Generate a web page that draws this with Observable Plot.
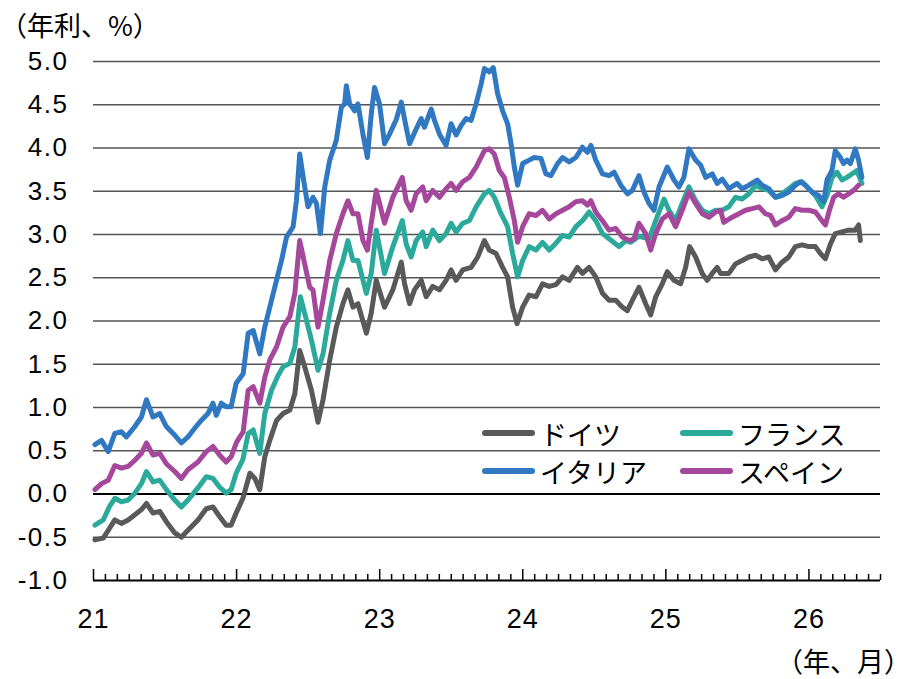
<!DOCTYPE html>
<html><head><meta charset="utf-8">
<script src="https://cdn.jsdelivr.net/npm/d3@7"></script>
<script src="https://cdn.jsdelivr.net/npm/@observablehq/plot@0.6"></script>
<style>
body{margin:0;background:#fff;}
#wrap{position:relative;width:914px;height:679px;}
.note{position:absolute;font-family:"Noto Sans CJK JP",sans-serif;font-size:27px;line-height:1;color:#000;white-space:nowrap;}
.lg{position:absolute;height:34px;display:flex;align-items:center;font-family:"Noto Sans CJK JP",sans-serif;font-size:27px;color:#000;white-space:nowrap;}
.sw{display:inline-block;width:53px;height:6px;border-radius:3px;margin-right:5px;}
[aria-label="y-axis tick label"] text{letter-spacing:1.5px;}
[aria-label="x-axis tick label"] text{letter-spacing:1px;}
</style></head>
<body><div id="wrap"></div>
<script>
// categories and colours
const countries = ["ドイツ", "フランス", "イタリア", "スペイン"];
const colors = ["#595959", "#2BA99A", "#3079C2", "#A5489C"];
const yTicks = [-1, -0.5, 0, 0.5, 1, 1.5, 2, 2.5, 3, 3.5, 4, 4.5, 5];
const xTickYears = [21, 22, 23, 24, 25, 26];
const xTickLabels = ["21", "22", "23", "24", "25", "26"];
const yUnit = "（年利、%）";
const xUnit = "（年、月）";

// series values: [time in years (21 = Jan 2021), yield %]
const germany = [[21.010,-0.53],[21.068,-0.51],[21.103,-0.42],[21.149,-0.30],[21.195,-0.34],[21.242,-0.30],[21.289,-0.24],[21.335,-0.18],[21.370,-0.11],[21.416,-0.22],[21.463,-0.20],[21.509,-0.32],[21.568,-0.45],[21.614,-0.50],[21.660,-0.42],[21.730,-0.30],[21.788,-0.17],[21.835,-0.15],[21.881,-0.26],[21.927,-0.36],[21.962,-0.36],[21.997,-0.22],[22.044,-0.05],[22.093,0.24],[22.128,0.18],[22.162,0.05],[22.197,0.43],[22.232,0.62],[22.279,0.85],[22.325,0.93],[22.372,0.97],[22.407,1.16],[22.441,1.66],[22.476,1.47],[22.523,1.20],[22.569,0.83],[22.604,1.09],[22.651,1.55],[22.697,1.93],[22.743,2.20],[22.778,2.36],[22.813,2.16],[22.848,2.20],[22.907,1.86],[22.941,2.09],[22.976,2.47],[23.034,2.16],[23.092,2.36],[23.151,2.68],[23.174,2.43],[23.209,2.20],[23.243,2.36],[23.290,2.47],[23.325,2.28],[23.371,2.40],[23.418,2.36],[23.464,2.47],[23.499,2.59],[23.534,2.47],[23.580,2.59],[23.639,2.62],[23.685,2.74],[23.732,2.93],[23.766,2.82],[23.813,2.78],[23.859,2.62],[23.894,2.51],[23.929,2.16],[23.960,1.97],[23.999,2.16],[24.045,2.30],[24.092,2.28],[24.138,2.43],[24.185,2.40],[24.232,2.42],[24.278,2.51],[24.324,2.47],[24.382,2.62],[24.417,2.55],[24.464,2.62],[24.510,2.51],[24.557,2.32],[24.603,2.24],[24.650,2.24],[24.696,2.16],[24.731,2.12],[24.766,2.24],[24.812,2.39],[24.859,2.20],[24.894,2.07],[24.929,2.28],[24.975,2.43],[25.010,2.57],[25.057,2.47],[25.103,2.43],[25.138,2.62],[25.166,2.86],[25.208,2.74],[25.254,2.55],[25.289,2.47],[25.324,2.55],[25.359,2.62],[25.382,2.55],[25.440,2.55],[25.487,2.66],[25.533,2.70],[25.580,2.74],[25.627,2.76],[25.673,2.72],[25.719,2.74],[25.766,2.59],[25.812,2.68],[25.859,2.74],[25.905,2.86],[25.952,2.88],[26.000,2.86],[26.045,2.86],[26.080,2.78],[26.115,2.72],[26.150,2.89],[26.184,3.01],[26.231,3.03],[26.277,3.05],[26.324,3.05],[26.347,3.11],[26.359,2.93]];

const france = [[21.010,-0.36],[21.068,-0.30],[21.110,-0.15],[21.149,-0.05],[21.195,-0.09],[21.242,-0.07],[21.289,0.01],[21.335,0.12],[21.370,0.26],[21.416,0.14],[21.463,0.16],[21.509,0.05],[21.568,-0.07],[21.614,-0.15],[21.660,-0.07],[21.730,0.07],[21.788,0.20],[21.835,0.18],[21.881,0.08],[21.927,0.01],[21.962,0.05],[21.997,0.24],[22.044,0.40],[22.081,0.70],[22.116,0.74],[22.162,0.47],[22.197,0.93],[22.244,1.20],[22.290,1.37],[22.325,1.47],[22.372,1.51],[22.407,1.70],[22.446,2.28],[22.488,2.01],[22.523,1.78],[22.569,1.43],[22.604,1.62],[22.651,2.09],[22.697,2.47],[22.743,2.70],[22.778,2.93],[22.813,2.70],[22.848,2.70],[22.907,2.32],[22.941,2.55],[22.976,3.05],[23.034,2.55],[23.092,2.86],[23.158,3.16],[23.185,2.89],[23.220,2.74],[23.255,2.93],[23.301,3.03],[23.325,2.86],[23.371,3.05],[23.418,2.93],[23.464,3.01],[23.499,3.13],[23.534,3.03],[23.580,3.13],[23.627,3.16],[23.674,3.32],[23.732,3.47],[23.766,3.51],[23.801,3.43],[23.848,3.24],[23.894,3.09],[23.929,2.78],[23.964,2.51],[23.999,2.70],[24.045,2.86],[24.092,2.82],[24.138,2.91],[24.185,2.82],[24.232,2.90],[24.278,2.99],[24.324,2.97],[24.371,3.09],[24.417,3.16],[24.464,3.26],[24.510,3.16],[24.557,3.01],[24.603,2.95],[24.650,2.89],[24.673,2.86],[24.720,2.93],[24.755,2.91],[24.812,2.98],[24.882,2.95],[24.929,3.16],[24.987,3.41],[25.022,3.28],[25.068,3.16],[25.114,3.36],[25.161,3.55],[25.208,3.39],[25.254,3.28],[25.301,3.24],[25.348,3.28],[25.394,3.28],[25.440,3.32],[25.487,3.43],[25.533,3.41],[25.580,3.47],[25.627,3.57],[25.673,3.53],[25.719,3.51],[25.766,3.43],[25.812,3.47],[25.859,3.53],[25.905,3.59],[25.952,3.61],[26.000,3.53],[26.045,3.45],[26.091,3.32],[26.126,3.45],[26.161,3.66],[26.196,3.72],[26.231,3.63],[26.265,3.66],[26.300,3.70],[26.335,3.74],[26.370,3.59]];

const italy = [[21.010,0.57],[21.056,0.62],[21.103,0.49],[21.149,0.70],[21.195,0.72],[21.230,0.66],[21.289,0.78],[21.335,0.89],[21.370,1.09],[21.416,0.89],[21.463,0.93],[21.509,0.78],[21.556,0.70],[21.614,0.59],[21.660,0.66],[21.707,0.76],[21.753,0.85],[21.800,0.93],[21.835,1.05],[21.858,0.91],[21.893,1.05],[21.927,1.01],[21.962,1.01],[21.997,1.28],[22.046,1.39],[22.081,1.86],[22.116,1.89],[22.162,1.62],[22.197,1.93],[22.232,2.16],[22.279,2.47],[22.314,2.70],[22.349,2.97],[22.395,3.09],[22.418,3.39],[22.441,3.93],[22.476,3.55],[22.499,3.32],[22.534,3.43],[22.558,3.36],[22.586,3.01],[22.616,3.55],[22.651,3.86],[22.697,4.09],[22.732,4.47],[22.755,4.51],[22.767,4.72],[22.790,4.51],[22.825,4.43],[22.848,4.51],[22.883,4.16],[22.914,3.89],[22.941,4.39],[22.964,4.70],[22.999,4.51],[23.034,4.05],[23.069,4.16],[23.116,4.33],[23.151,4.53],[23.185,4.24],[23.209,4.05],[23.255,4.22],[23.290,4.34],[23.313,4.24],[23.360,4.45],[23.383,4.32],[23.418,4.16],[23.464,4.03],[23.499,4.28],[23.534,4.15],[23.569,4.26],[23.604,4.34],[23.639,4.32],[23.674,4.51],[23.709,4.74],[23.732,4.92],[23.766,4.88],[23.794,4.93],[23.824,4.63],[23.859,4.43],[23.894,4.28],[23.918,4.05],[23.941,3.78],[23.964,3.57],[23.999,3.82],[24.045,3.86],[24.080,3.89],[24.127,3.88],[24.162,3.70],[24.197,3.68],[24.243,3.82],[24.278,3.89],[24.324,3.84],[24.371,3.89],[24.417,4.01],[24.452,3.95],[24.476,4.03],[24.510,3.86],[24.557,3.70],[24.603,3.68],[24.638,3.72],[24.685,3.57],[24.731,3.47],[24.766,3.51],[24.812,3.68],[24.847,3.49],[24.882,3.36],[24.917,3.28],[24.952,3.55],[25.010,3.78],[25.057,3.63],[25.092,3.55],[25.126,3.66],[25.161,3.99],[25.208,3.86],[25.243,3.80],[25.278,3.66],[25.324,3.70],[25.359,3.59],[25.394,3.64],[25.440,3.53],[25.498,3.59],[25.533,3.53],[25.580,3.57],[25.638,3.63],[25.673,3.57],[25.719,3.53],[25.766,3.43],[25.812,3.45],[25.859,3.49],[25.905,3.57],[25.940,3.61],[25.975,3.57],[26.021,3.49],[26.068,3.45],[26.103,3.38],[26.126,3.63],[26.161,3.74],[26.184,3.97],[26.219,3.89],[26.242,3.82],[26.265,3.86],[26.289,3.82],[26.324,3.99],[26.347,3.86],[26.370,3.66]];

const spain = [[21.010,0.05],[21.056,0.12],[21.103,0.16],[21.149,0.33],[21.195,0.30],[21.242,0.32],[21.289,0.39],[21.335,0.47],[21.370,0.59],[21.416,0.45],[21.463,0.47],[21.509,0.35],[21.568,0.26],[21.614,0.18],[21.660,0.28],[21.730,0.37],[21.788,0.49],[21.835,0.55],[21.881,0.45],[21.927,0.37],[21.962,0.43],[22.000,0.60],[22.046,0.72],[22.081,1.20],[22.116,1.24],[22.162,1.05],[22.197,1.35],[22.232,1.55],[22.279,1.70],[22.325,1.93],[22.372,2.05],[22.407,2.32],[22.441,2.93],[22.476,2.66],[22.511,2.39],[22.534,2.36],[22.569,1.93],[22.604,2.24],[22.651,2.70],[22.697,3.01],[22.743,3.24],[22.778,3.39],[22.813,3.24],[22.848,3.24],[22.883,2.93],[22.914,2.82],[22.941,3.13],[22.976,3.51],[23.034,3.13],[23.092,3.43],[23.158,3.66],[23.185,3.39],[23.220,3.28],[23.255,3.47],[23.301,3.55],[23.325,3.39],[23.371,3.51],[23.418,3.43],[23.464,3.53],[23.499,3.59],[23.534,3.51],[23.580,3.61],[23.627,3.66],[23.674,3.78],[23.732,3.97],[23.766,3.99],[23.801,3.93],[23.836,3.74],[23.871,3.66],[23.906,3.43],[23.941,3.16],[23.964,2.91],[23.999,3.09],[24.045,3.24],[24.092,3.22],[24.138,3.28],[24.185,3.18],[24.232,3.24],[24.278,3.28],[24.324,3.32],[24.371,3.38],[24.417,3.39],[24.452,3.34],[24.476,3.39],[24.510,3.26],[24.557,3.16],[24.603,3.05],[24.650,3.07],[24.696,2.97],[24.743,2.93],[24.778,2.95],[24.812,3.13],[24.859,3.01],[24.894,2.82],[24.929,3.01],[24.975,3.18],[25.022,3.24],[25.068,3.09],[25.114,3.28],[25.161,3.49],[25.208,3.36],[25.254,3.24],[25.301,3.20],[25.348,3.26],[25.382,3.28],[25.405,3.14],[25.463,3.20],[25.510,3.24],[25.557,3.28],[25.603,3.30],[25.650,3.32],[25.696,3.24],[25.731,3.22],[25.766,3.11],[25.812,3.16],[25.859,3.20],[25.905,3.30],[25.952,3.28],[26.000,3.28],[26.045,3.26],[26.091,3.16],[26.115,3.11],[26.143,3.28],[26.173,3.43],[26.207,3.47],[26.242,3.43],[26.277,3.47],[26.312,3.51],[26.347,3.57]];

const seriesValues = [germany, france, italy, spain];
const data = countries.flatMap((c, i) => seriesValues[i].map(([t, v]) => ({country: c, t, v})));
const monthTicks = d3.range(0, 67).map(i => 21 + i / 12).filter((d, i) => i % 12 !== 0);
const gridValues = yTicks.filter(d => d !== 0 && d !== -1);

const chart = Plot.plot({
  width: 914, height: 679,
  marginLeft: 93, marginRight: 34, marginTop: 61, marginBottom: 99,
  x: {domain: [21, 26.5]},
  y: {domain: [-1, 5]},
  color: {domain: countries, range: colors},
  style: {fontFamily: "'Liberation Sans', Arial, sans-serif", background: "white", color: "#000"},
  marks: [
    Plot.ruleY(gridValues, {stroke: "#555", strokeWidth: 1.6}),
    Plot.ruleY([0], {stroke: "#000", strokeWidth: 2.2}),
    Plot.line(data, {x: "t", y: "v", z: "country", stroke: "country", strokeWidth: 5, strokeLinejoin: "round", strokeLinecap: "round"}),
    Plot.axisY(yTicks, {anchor: "left", tickSize: 0, tickPadding: 25, tickFormat: d => d.toFixed(1), fontSize: 26, label: null}),
    Plot.axisX(monthTicks, {tickSize: -6, tickFormat: () => "", strokeWidth: 1.5, stroke: "#000", label: null}),
    Plot.axisX(xTickYears, {tickSize: -11, tickFormat: () => "", strokeWidth: 1.5, stroke: "#000", label: null}),
    Plot.axisX(xTickYears, {tickSize: 0, tickPadding: 28, tickFormat: (d) => xTickLabels[xTickYears.indexOf(d)], fontSize: 27, label: null}),
    Plot.ruleY([-1], {stroke: "#000", strokeWidth: 2})
  ]
});
const wrap = document.getElementById("wrap");
wrap.appendChild(chart);

function note(text, left, top) {
  const d = document.createElement("div");
  d.className = "note"; d.textContent = text;
  d.style.left = left + "px"; d.style.top = top + "px";
  wrap.appendChild(d);
}
note(yUnit, 0, 11);
note(xUnit, 776, 647);

const legendPos = [[482, 416], [680, 416], [482, 454], [680, 454]];
const legendOrder = [0, 1, 2, 3];
legendOrder.forEach((ci, k) => {
  const d = document.createElement("div");
  d.className = "lg";
  d.style.left = legendPos[k][0] + "px"; d.style.top = legendPos[k][1] + "px";
  const s = document.createElement("span");
  s.className = "sw"; s.style.background = colors[ci];
  d.appendChild(s);
  d.appendChild(document.createTextNode(countries[ci]));
  wrap.appendChild(d);
});
</script>
</body></html>
